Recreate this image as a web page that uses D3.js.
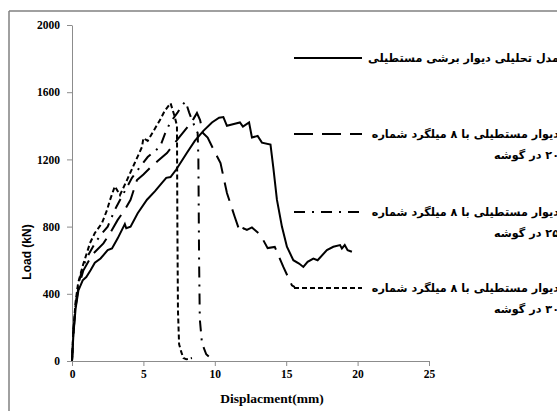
<!DOCTYPE html>
<html lang="fa">
<head>
<meta charset="UTF-8">
<title>Load - Displacement</title>
<script src="https://d3js.org/d3.v7.min.js"></script>
<style>
    body { margin: 0; background: #fff; }
    svg { display: block; }
    .axis path, .axis line { stroke: #8c8c8c; }
    .axis text { font-family: "Liberation Serif", serif; font-weight: bold; font-size: 11.5px; fill: #000; }
    .curve { fill: none; stroke: #000; stroke-width: 2px; }
    .leg { font-family: "DejaVu Sans", sans-serif; font-weight: bold; font-size: 11.2px; fill: #000; }
</style>
</head>
<body>
<svg id="chart" width="557" height="411"></svg>
<script>
// load (kN) vs displacement (mm)
const analytical = [[0,0],[0.1,160],[0.25,310],[0.45,420],[0.75,480],[1.0,500],[1.3,540],[1.6,585],[2.0,610],[2.5,660],[2.8,670],[3.2,730],[3.7,815],[3.8,790],[4.1,800],[4.6,880],[5.25,960],[5.8,1010],[6.3,1060],[6.6,1090],[6.9,1095],[7.3,1140],[8.05,1240],[8.6,1310],[9.2,1370],[9.8,1420],[10.3,1448],[10.6,1452],[10.85,1400],[11.4,1412],[11.76,1420],[11.97,1395],[12.4,1420],[12.6,1330],[13.0,1340],[13.3,1300],[13.9,1288],[14.1,1150],[14.35,960],[14.7,800],[15.05,680],[15.5,600],[15.9,580],[16.2,560],[16.5,590],[16.9,610],[17.2,600],[17.85,660],[18.3,680],[18.77,690],[18.9,670],[19.1,690],[19.3,660],[19.6,650]];
const bar20 = [[0,0],[0.1,170],[0.25,320],[0.45,440],[0.8,540],[1.2,600],[1.5,640],[2.2,700],[2.66,760],[3.2,840],[3.7,900],[4.1,960],[4.55,1077],[5.0,1110],[5.46,1149],[6.0,1190],[6.65,1238],[7.35,1315],[8.1,1393],[8.5,1440],[8.75,1476],[8.97,1434],[9.17,1357],[9.5,1330],[9.9,1260],[10.4,1178],[10.85,1000],[11.4,857],[11.76,768],[12.0,790],[12.25,780],[12.6,795],[13.2,750],[13.7,672],[14.2,679],[14.8,560],[15.4,450],[15.6,440]];
const bar25 = [[0,0],[0.1,180],[0.25,330],[0.45,460],[0.8,570],[1.2,640],[1.6,700],[2.0,750],[2.5,800],[3.0,900],[3.5,980],[4.2,1090],[4.76,1155],[5.3,1214],[5.8,1250],[6.16,1274],[6.5,1350],[6.86,1417],[7.4,1480],[7.7,1520],[7.95,1545],[8.2,1480],[8.4,1434],[8.8,1357],[8.85,1200],[8.9,600],[8.95,250],[9.1,107],[9.4,40],[9.7,18]];
const bar30 = [[0,0],[0.1,190],[0.25,350],[0.43,464],[0.77,571],[1.26,702],[1.6,762],[2.1,821],[2.45,898],[2.66,958],[3.0,1040],[3.36,988],[3.85,1077],[4.4,1180],[4.9,1274],[5.0,1327],[5.3,1310],[5.95,1404],[6.16,1434],[6.5,1490],[6.9,1535],[7.2,1452],[7.35,1400],[7.38,800],[7.42,300],[7.5,100],[7.65,54],[7.8,18],[8.0,10],[8.4,18]];

const xTicks = [0, 5, 10, 15, 20, 25];
const yTicks = [0, 400, 800, 1200, 1600, 2000];

const seriesNames = [
    ["مدل تحلیلی دیوار برشی مستطیلی"],
    ["دیوار مستطیلی با ۸ میلگرد شماره", "۲۰ در گوشه"],
    ["دیوار مستطیلی با ۸ میلگرد شماره", "۲۵ در گوشه"],
    ["دیوار مستطیلی با ۸ میلگرد شماره", "۳۰ در گوشه"]
];
const seriesData = [analytical, bar20, bar25, bar30];
const seriesDash = [null, "19,9", "11,7,2,7", "5,3"];

const svg = d3.select("#chart");

// outer frame: only its left and top edges fall inside the picture
svg.append("line")
    .attr("x1", 9).attr("y1", 11).attr("x2", 9).attr("y2", 411)
    .attr("stroke", "#808080").attr("stroke-width", 1.5);
svg.append("line")
    .attr("x1", 9).attr("y1", 11).attr("x2", 557).attr("y2", 11)
    .attr("stroke", "#808080").attr("stroke-width", 1.5);

const x = d3.scaleLinear().domain([0, 25]).range([72, 429]);
const y = d3.scaleLinear().domain([0, 2000]).range([361, 25]);

svg.append("g").attr("class", "axis")
    .attr("transform", "translate(0,361)")
    .call(d3.axisBottom(x).tickValues(xTicks).tickFormat(d3.format("d")).tickSize(5).tickSizeOuter(0).tickPadding(4));

svg.append("g").attr("class", "axis")
    .attr("transform", "translate(72,0)")
    .call(d3.axisLeft(y).tickValues(yTicks).tickFormat(d3.format("d")).tickSize(5).tickSizeOuter(0).tickPadding(7));

svg.append("text")
    .attr("x", 272).attr("y", 403)
    .attr("text-anchor", "middle")
    .style("font-family", "Liberation Serif, serif").style("font-weight", "bold").style("font-size", "13.5px")
    .text("Displacment(mm)");

svg.append("text")
    .attr("transform", "translate(31,252) rotate(-90)")
    .attr("text-anchor", "middle")
    .style("font-family", "Liberation Sans, Arial, sans-serif").style("font-weight", "bold").style("font-size", "12px")
    .text("Load (kN)");

const line = d3.line().x(d => x(d[0])).y(d => y(d[1]));

svg.selectAll("path.curve").data(seriesData)
    .join("path")
    .attr("class", "curve")
    .attr("stroke-dasharray", (d, i) => seriesDash[i])
    .attr("d", line);

// legend
const legY = [58, 134, 212, 288];
const leg = svg.selectAll("g.legend").data(seriesNames)
    .join("g").attr("class", "legend");

leg.append("line")
    .attr("x1", 294).attr("x2", 362)
    .attr("y1", (d, i) => legY[i]).attr("y2", (d, i) => legY[i])
    .attr("stroke", "#000").attr("stroke-width", 2)
    .attr("stroke-dasharray", (d, i) => seriesDash[i]);

leg.each(function(lines, i) {
    d3.select(this).selectAll("text").data(lines)
        .join("text")
        .attr("class", "leg")
        .attr("direction", "rtl")
        .attr("text-anchor", "start")
        .attr("x", 559)
        .attr("y", (d, j) => legY[i] + 4 + j * 21)
        .text(d => d);
});
</script>
</body>
</html>
